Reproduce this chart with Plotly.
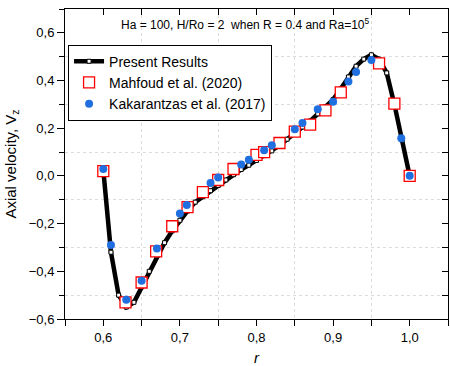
import plotly.graph_objects as go

# Present Results (solid line with small markers)
r_present = [0.60, 0.61, 0.62, 0.63, 0.64, 0.65, 0.66, 0.67, 0.68, 0.69, 0.70,
             0.71, 0.72, 0.73, 0.74, 0.75, 0.76, 0.77, 0.78, 0.79, 0.80,
             0.81, 0.82, 0.83, 0.84, 0.85, 0.86, 0.87, 0.88, 0.89, 0.90,
             0.91, 0.92, 0.93, 0.94, 0.95, 0.96, 0.97, 0.98, 0.99, 1.00]
v_present = [0.025, -0.32, -0.50, -0.55, -0.53, -0.465, -0.40, -0.335, -0.28, -0.23, -0.186,
             -0.147, -0.110, -0.087, -0.062, -0.040, -0.017, 0.005, 0.027, 0.045, 0.065,
             0.085, 0.105, 0.128, 0.154, 0.178, 0.205, 0.23, 0.26, 0.29, 0.32,
             0.365, 0.415, 0.46, 0.49, 0.508, 0.49, 0.432, 0.30, 0.15, 0.0]

# Mahfoud et al. (2020)
r_mahfoud = [0.60, 0.629, 0.65, 0.669, 0.69, 0.71, 0.73, 0.75, 0.77, 0.80, 0.81,
             0.83, 0.85, 0.87, 0.89, 0.91, 0.96, 0.98, 1.00]
v_mahfoud = [0.02, -0.53, -0.447, -0.316, -0.211, -0.131, -0.068, -0.017, 0.029, 0.088, 0.10,
             0.138, 0.186, 0.215, 0.275, 0.35, 0.472, 0.303, 0.0]

# Kakarantzas et al. (2017)
r_kaka = [0.60, 0.61, 0.63, 0.65, 0.67, 0.70, 0.709, 0.74, 0.75, 0.78, 0.79,
          0.81, 0.82, 0.85, 0.86, 0.88, 0.90, 0.92, 0.93, 0.95, 0.989, 1.00]
v_kaka = [0.029, -0.29, -0.519, -0.44, -0.304, -0.158, -0.122, -0.030, -0.007, 0.048, 0.068,
          0.108, 0.129, 0.196, 0.222, 0.280, 0.311, 0.396, 0.436, 0.486, 0.158, 0.001]

x_range = [0.55, 1.05]
y_range = [-0.6, 0.7]

fig = go.Figure()
fig.add_trace(go.Scatter(
    x=r_present, y=v_present, mode="lines+markers", name="Present Results",
    line=dict(color="black", width=4.5),
    marker=dict(symbol="square", size=4, color="white", line=dict(color="black", width=1)),
))
fig.add_trace(go.Scatter(
    x=r_mahfoud, y=v_mahfoud, mode="markers", name="Mahfoud et al. (2020)",
    marker=dict(symbol="square", size=11, color="white", line=dict(color="red", width=1.3)),
))
fig.add_trace(go.Scatter(
    x=r_kaka, y=v_kaka, mode="markers", name="Kakarantzas et al. (2017)",
    marker=dict(symbol="circle", size=8, color="#1f6fe0"),
))
# dummy trace for top/right mirrored axes
fig.add_trace(go.Scatter(x=[None], y=[None], xaxis="x2", yaxis="y2", showlegend=False))

font_family = "Liberation Sans, Arial, sans-serif"

fig.update_layout(
    width=450, height=366,
    margin=dict(l=65, r=2, t=9, b=45),
    paper_bgcolor="white", plot_bgcolor="white",
    separators=", ",
    font=dict(family=font_family, size=13, color="black"),
    showlegend=True,
    legend=dict(
        x=0.008, y=0.885, xanchor="left", yanchor="top",
        bgcolor="white", bordercolor="black", borderwidth=1,
        font=dict(size=14), tracegroupgap=0, itemsizing="trace",
    ),
    xaxis=dict(
        range=x_range, dtick=0.1, tick0=0.6, tickformat=".1f",
        ticks="outside", ticklen=6, tickwidth=1, tickcolor="black",
        showline=True, linecolor="black", linewidth=1,
        showgrid=False, zeroline=False,
        minor=dict(dtick=0.05, tick0=0.55, ticks="outside", ticklen=6, tickcolor="black",
                   showgrid=True, gridcolor="#dcdcdc", gridwidth=1, griddash="dot"),
        title=dict(text="<i>r</i>", font=dict(size=15), standoff=9),
        tickfont=dict(size=13),
    ),
    yaxis=dict(
        range=y_range, dtick=0.2, tick0=0.0, tickformat=".1f",
        ticks="outside", ticklen=7, tickwidth=1, tickcolor="black",
        showline=True, linecolor="black", linewidth=1,
        showgrid=False, zeroline=False,
        minor=dict(dtick=0.1, tick0=0.0, ticks="outside", ticklen=5, tickcolor="black",
                   showgrid=True, gridcolor="#dcdcdc", gridwidth=1, griddash="dot"),
        title=dict(text="Axial velocity, V<sub>z</sub>", font=dict(size=15), standoff=8),
        tickfont=dict(size=13),
    ),
    xaxis2=dict(
        overlaying="x", side="top", range=x_range, dtick=0.05, tick0=0.55,
        ticks="inside", ticklen=6, tickcolor="black", showticklabels=False,
        showline=True, linecolor="black", linewidth=1, showgrid=False, zeroline=False,
    ),
    yaxis2=dict(
        overlaying="y", side="right", range=y_range, dtick=0.1, tick0=0.0,
        ticks="inside", ticklen=6, tickcolor="black", showticklabels=False,
        showline=True, linecolor="black", linewidth=1, showgrid=False, zeroline=False,
    ),
    annotations=[dict(
        text="Ha = 100, H/Ro = 2  when R = 0.4 and Ra=10<sup>5</sup>",
        xref="paper", yref="paper", x=0.47, y=0.985, xanchor="center", yanchor="top",
        showarrow=False, font=dict(size=12),
    )],
)

fig.write_html("out.html")
